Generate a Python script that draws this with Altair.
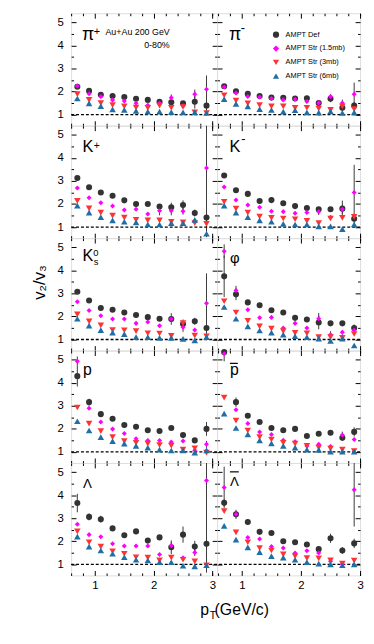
import altair as alt
import pandas as pd

FONT = "Liberation Sans"

PT = [0.7, 0.9, 1.1, 1.3, 1.5, 1.7, 1.9, 2.1, 2.3, 2.5, 2.7, 2.9]
SERIES = ["AMPT Def", "AMPT Str (1.5mb)", "AMPT Str (3mb)", "AMPT Str (6mb)"]
COLORS = ["#333333", "#ff00ff", "#ff3333", "#1f6fa6"]
SHAPES = ["circle", "diamond", "triangle-down", "triangle-up"]
SIZES = [38, 26, 44, 44]

# pi+
pip_def = [2.21, 2.03, 1.86, 1.81, 1.76, 1.69, 1.64, 1.56, 1.54, 1.49, 1.56, 1.39]
pip_s15 = [2.24, 1.91, 1.79, 1.63, 1.59, 1.49, 1.41, 1.49, 1.73, 1.39, 1.89, 2.10]
pip_s3 = [1.89, 1.64, 1.50, 1.41, 1.36, 1.31, 1.29, 1.39, 1.30, 1.33, 1.10, 1.07]
pip_s6 = [1.70, 1.49, 1.37, 1.23, 1.21, 1.16, 1.13, 1.13, 1.11, 1.10, 1.10, 1.07]
pip_def_err = [0.05, 0.05, 0.05, 0.05, 0.05, 0.05, 0.05, 0.05, 0.10, 0.10, 0.30, 0.30]
pip_s15_err = [0.05, 0.05, 0.05, 0.05, 0.05, 0.05, 0.05, 0.05, 0.15, 0.05, 0.20, 0.60]
# pi-
pim_def = [2.23, 2.01, 1.90, 1.81, 1.74, 1.73, 1.70, 1.71, 1.50, 1.69, 1.30, 1.39]
pim_s15 = [2.20, 1.94, 1.79, 1.76, 1.70, 1.64, 1.67, 1.57, 1.51, 1.79, 1.50, 1.89]
pim_s3 = [1.84, 1.61, 1.49, 1.41, 1.36, 1.36, 1.29, 1.30, 1.26, 1.21, 1.36, 1.24]
pim_s6 = [1.67, 1.47, 1.36, 1.24, 1.20, 1.13, 1.19, 1.10, 1.09, 1.14, 1.07, 1.10]
pim_def_err = [0.05, 0.05, 0.05, 0.05, 0.05, 0.05, 0.05, 0.05, 0.05, 0.15, 0.20, 0.15]
pim_s15_err = [0.05, 0.05, 0.05, 0.05, 0.05, 0.05, 0.05, 0.05, 0.05, 0.10, 0.15, 0.50]
# K+
kp_def = [3.13, 2.73, 2.50, 2.36, 2.16, 2.00, 2.00, 1.89, 1.86, 1.96, 1.61, 1.41]
kp_s15 = [2.70, 2.27, 2.06, 1.91, 1.74, 1.77, 1.57, 1.71, 1.71, 1.69, 1.24, 3.56]
kp_s3 = [2.14, 1.81, 1.63, 1.50, 1.41, 1.31, 1.29, 1.29, 1.23, 1.20, 1.17, 1.14]
kp_s6 = [1.93, 1.63, 1.43, 1.29, 1.23, 1.20, 1.11, 1.11, 1.17, 1.17, 1.31, 0.71]
kp_def_err = [0.05, 0.05, 0.05, 0.05, 0.05, 0.05, 0.05, 0.10, 0.20, 0.20, 0.15, 0.30]
kp_s15_err = [0.05, 0.05, 0.05, 0.05, 0.05, 0.05, 0.05, 0.20, 0.20, 0.15, 0.10, 3.00]
# K-
km_def = [3.24, 2.60, 2.44, 2.13, 2.17, 2.03, 1.91, 1.83, 1.77, 1.77, 1.80, 1.36]
km_s15 = [2.74, 2.17, 1.96, 1.86, 1.69, 1.67, 1.60, 1.63, 1.67, 1.43, 1.77, 2.50]
km_s3 = [2.10, 1.80, 1.63, 1.46, 1.40, 1.37, 1.34, 1.27, 1.17, 1.37, 1.40, 1.44]
km_s6 = [1.93, 1.63, 1.43, 1.29, 1.23, 1.14, 1.11, 1.11, 1.03, 1.03, 0.91, 1.11]
km_def_err = [0.05, 0.05, 0.05, 0.05, 0.05, 0.05, 0.05, 0.05, 0.05, 0.05, 0.35, 0.20]
km_s15_err = [0.05, 0.05, 0.05, 0.05, 0.05, 0.05, 0.05, 0.05, 0.15, 0.05, 0.20, 1.20]
# K0s
k0_def = [3.07, 2.69, 2.37, 2.29, 2.17, 2.06, 1.97, 1.90, 1.89, 1.67, 1.79, 1.50]
k0_s15 = [2.64, 2.26, 2.03, 1.89, 1.89, 1.70, 1.76, 1.60, 1.89, 1.53, 1.41, 2.57]
k0_s3 = [2.09, 1.79, 1.61, 1.41, 1.40, 1.36, 1.27, 1.26, 1.16, 1.71, 1.17, 1.14]
k0_s6 = [1.90, 1.60, 1.41, 1.30, 1.23, 1.10, 1.10, 1.07, 1.07, 1.03, 0.96, 1.10]
k0_def_err = [0.05, 0.05, 0.05, 0.05, 0.05, 0.05, 0.05, 0.05, 0.25, 0.20, 0.15, 0.30]
k0_s15_err = [0.05, 0.05, 0.05, 0.05, 0.05, 0.05, 0.05, 0.05, 0.05, 0.20, 0.05, 1.30]
# phi
phi_def = [3.74, 2.96, 2.61, 2.49, 2.27, 2.17, 1.94, 1.87, 1.74, 1.70, 1.70, 1.50]
phi_s15 = [4.83, 3.13, 2.29, 1.94, 1.96, 1.50, 1.70, 1.50, 1.90, 1.21, 1.31, 1.40]
phi_s3 = [2.66, 2.17, 1.81, 1.57, 1.47, 1.36, 1.29, 1.27, 1.10, 1.10, 1.07, 1.24]
phi_s6 = [2.41, 1.90, 1.57, 1.39, 1.30, 1.21, 1.14, 1.10, 1.04, 0.94, 1.04, 0.74]
phi_def_err = [0.90, 0.25, 0.10, 0.05, 0.05, 0.05, 0.05, 0.10, 0.30, 0.05, 0.05, 0.15]
phi_s15_err = [0.30, 0.20, 0.05, 0.05, 0.05, 0.05, 0.05, 0.05, 0.25, 0.15, 0.10, 0.10]
# p
p_def = [4.29, 3.16, 2.64, 2.44, 2.17, 2.09, 1.94, 1.91, 2.04, 1.73, 1.50, 2.00]
p_s15 = [4.94, 2.90, 2.30, 1.99, 1.80, 1.57, 1.50, 1.50, 1.43, 1.47, 1.07, 1.33]
p_s3 = [2.93, 2.23, 1.90, 1.64, 1.47, 1.40, 1.36, 1.30, 1.27, 1.10, 1.16, 0.97]
p_s6 = [2.33, 1.93, 1.64, 1.47, 1.36, 1.26, 1.19, 1.10, 1.06, 1.07, 0.97, 1.07]
p_def_err = [0.45, 0.15, 0.05, 0.05, 0.05, 0.05, 0.05, 0.05, 0.05, 0.05, 0.10, 0.30]
p_s15_err = [0.20, 0.05, 0.05, 0.05, 0.05, 0.05, 0.05, 0.05, 0.05, 0.05, 0.05, 0.15]
# pbar
pb_def = [5.33, 3.16, 2.57, 2.30, 2.04, 1.94, 2.00, 1.69, 1.79, 1.83, 1.61, 1.87]
pb_s15 = [5.26, 2.83, 2.23, 1.86, 1.76, 1.51, 1.44, 1.26, 1.33, 1.24, 1.73, 1.54]
pb_s3 = [3.36, 2.36, 1.93, 1.64, 1.54, 1.40, 1.36, 1.26, 1.19, 1.14, 1.10, 1.04]
pb_s6 = [2.66, 2.04, 1.76, 1.50, 1.37, 1.26, 1.19, 1.10, 1.09, 1.01, 1.01, 1.01]
pb_def_err = [0.40, 0.20, 0.05, 0.05, 0.05, 0.05, 0.05, 0.05, 0.05, 0.05, 0.10, 0.20]
pb_s15_err = [0.05, 0.05, 0.05, 0.05, 0.05, 0.05, 0.05, 0.05, 0.05, 0.05, 0.15, 0.05]
# Lambda
la_def = [3.66, 3.06, 2.96, 2.56, 2.26, 2.43, 2.03, 2.17, 1.74, 2.29, 1.77, 1.89]
la_s15 = [2.74, 2.29, 2.20, 1.89, 1.80, 1.80, 1.80, 1.43, 1.81, 1.29, 1.51, 4.64]
la_s3 = [2.43, 1.96, 1.77, 1.57, 1.46, 1.31, 1.29, 1.17, 1.29, 1.20, 1.13, 0.96]
la_s6 = [2.20, 1.77, 1.60, 1.46, 1.31, 1.20, 1.17, 1.10, 1.09, 0.94, 0.91, 0.96]
la_def_err = [0.40, 0.15, 0.15, 0.05, 0.05, 0.05, 0.05, 0.05, 0.30, 0.35, 0.25, 0.30]
la_s15_err = [0.05, 0.05, 0.05, 0.05, 0.05, 0.05, 0.05, 0.05, 0.15, 0.05, 0.15, 4.00]
# Lambda bar
lb_def = [3.67, 3.17, 2.84, 2.41, 2.36, 2.00, 1.96, 1.86, 1.66, 2.13, 1.60, 1.91]
lb_s15 = [4.34, 3.17, 2.17, 2.10, 1.77, 1.71, 1.49, 1.59, 1.49, 1.14, 1.00, 4.24]
lb_s3 = [3.31, 2.39, 1.96, 1.71, 1.60, 1.43, 1.36, 1.27, 1.26, 1.17, 1.03, 1.16]
lb_s6 = [2.67, 2.07, 1.74, 1.53, 1.36, 1.29, 1.20, 1.10, 1.03, 1.00, 0.96, 1.00]
lb_def_err = [0.15, 0.20, 0.10, 0.05, 0.05, 0.05, 0.05, 0.05, 0.05, 0.20, 0.15, 0.20]
lb_s15_err = [0.90, 0.05, 0.05, 0.05, 0.05, 0.05, 0.05, 0.05, 0.05, 0.05, 0.05, 1.60]

PANEL_DATA = [
    (pip_def, pip_s15, pip_s3, pip_s6, pip_def_err, pip_s15_err),
    (pim_def, pim_s15, pim_s3, pim_s6, pim_def_err, pim_s15_err),
    (kp_def, kp_s15, kp_s3, kp_s6, kp_def_err, kp_s15_err),
    (km_def, km_s15, km_s3, km_s6, km_def_err, km_s15_err),
    (k0_def, k0_s15, k0_s3, k0_s6, k0_def_err, k0_s15_err),
    (phi_def, phi_s15, phi_s3, phi_s6, phi_def_err, phi_s15_err),
    (p_def, p_s15, p_s3, p_s6, p_def_err, p_s15_err),
    (pb_def, pb_s15, pb_s3, pb_s6, pb_def_err, pb_s15_err),
    (la_def, la_s15, la_s3, la_s6, la_def_err, la_s15_err),
    (lb_def, lb_s15, lb_s3, lb_s6, lb_def_err, lb_s15_err),
]

# panel labels: (text, x, y, fontSize)
PANEL_LABELS = [
    [("π", 11, 27, 18), ("+", 23, 22, 11)],
    [("π", 12, 27, 18), ("-", 24, 19, 13)],
    [("K", 11.5, 27, 16.5), ("+", 23, 24, 10.5)],
    [("K", 12.5, 27, 16.5), ("-", 24.5, 18, 13)],
    [("K", 11.5, 23, 16.5), ("0", 22.5, 18.5, 9.5), ("s", 23, 27.5, 9.5)],
    [("φ", 13, 25, 15)],
    [("p", 12, 25, 16)],
    [("p", 13, 25, 16)],
    [("Λ", 12, 25, 13.5)],
    [("Λ", 13, 23, 13.5)],
]
BARS = {7: (13, 21, 13), 9: (13, 22, 9)}

YMAJ = [1, 2, 3, 4, 5]
YMIN = [1.5, 2.5, 3.5, 4.5]
XMAJ = [1, 2, 3]
XMIN = [0.6, 0.8, 1.2, 1.4, 1.6, 1.8, 2.2, 2.4, 2.6, 2.8, 3.0]

rows = []
for pi, (d0, d1, d2, d3, e0, e1) in enumerate(PANEL_DATA):
    for s, vals, errs in [(0, d0, e0), (1, d1, e1), (2, d2, None), (3, d3, None)]:
        for j, v in enumerate(vals):
            e = errs[j] if errs is not None else 0.03
            rows.append({"panel": pi, "series": SERIES[s], "pt": PT[j], "v": v,
                         "lo": v - e, "hi": v + e, "err": e})
df = pd.DataFrame(rows)
one = pd.DataFrame({"ax": [1.0], "ay": [1.0], "one": [1.0]})

LEG = alt.Legend(orient="none", legendX=204, legendY=18, title=None,
                 labelFont=FONT, labelFontSize=7.5, labelColor="black",
                 rowPadding=5, labelOffset=6, symbolStrokeWidth=0, symbolSize=40)


def mk_axis(orient, values, size, labels=False, pad=0):
    kw = dict(orient=orient, values=values, tickSize=size, offset=-size,
              labels=labels, domain=False, grid=False, title=None, ticks=True,
              tickColor="black", tickWidth=1)
    if labels:
        kw.update(labelFont=FONT, labelFontSize=11.5, labelColor="black",
                  labelPadding=pad, labelFlush=False)
    return alt.Axis(**kw)


def panel(i):
    row, col = divmod(i, 2)
    w = 148 if col == 0 else 145
    xdom = [0.594, 3.08] if col == 0 else [0.58, 3.0]
    xs = alt.Scale(domain=xdom, nice=False, zero=False)
    ys = alt.Scale(domain=[0.52, 5.40], nice=False, zero=False)
    d = df[df.panel == i]
    base = alt.Chart(d)

    errs = base.transform_filter("datum.err >= 0.1").mark_rule(
        color="#3a3a3a", strokeWidth=1, clip=True).encode(
        x=alt.X("pt:Q", scale=xs, axis=None),
        y=alt.Y("lo:Q", scale=ys, axis=None),
        y2="hi:Q")
    dash = alt.Chart(one).mark_rule(color="black", strokeDash=[3, 2], strokeWidth=1.3).encode(
        y=alt.Y("one:Q", scale=ys, axis=None))

    pts = []
    for k, s in enumerate(SERIES):
        pts.append(base.transform_filter(alt.datum.series == s).mark_point(
            filled=True, opacity=1, strokeWidth=0, size=SIZES[k]).encode(
            x=alt.X("pt:Q", scale=xs, axis=None),
            y=alt.Y("v:Q", scale=ys, axis=None),
            color=alt.Color("series:N", scale=alt.Scale(domain=SERIES, range=COLORS), legend=LEG),
            shape=alt.Shape("series:N", scale=alt.Scale(domain=SERIES, range=SHAPES), legend=LEG),
        ))

    def axl(xa, ya):
        return alt.Chart(one).mark_point(opacity=0).encode(
            x=alt.X("ax:Q", scale=xs, axis=xa), y=alt.Y("ay:Q", scale=ys, axis=ya))

    ax_layers = [
        axl(mk_axis("bottom", XMAJ, 5, labels=(row == 4), pad=4),
            mk_axis("left", YMAJ, 5, labels=(col == 0), pad=8)),
        axl(mk_axis("bottom", XMIN, 2.5), mk_axis("left", YMIN, 2.5)),
        axl(mk_axis("top", XMAJ, 5), mk_axis("right", YMAJ, 5)),
        axl(mk_axis("top", XMIN, 2.5), mk_axis("right", YMIN, 2.5)),
    ]

    texts = []
    for (t, x, y, fs) in PANEL_LABELS[i]:
        texts.append(alt.Chart(one).mark_text(text=t, align="left", baseline="alphabetic",
                                              font=FONT, fontSize=fs, color="black").encode(
            x=alt.value(x), y=alt.value(y)))
    if i in BARS:
        x1, x2, yb = BARS[i]
        texts.append(alt.Chart(one).mark_rule(color="black", strokeWidth=1.2).encode(
            x=alt.value(x1), x2=alt.value(x2), y=alt.value(yb)))
    if i == 0:
        for t, y in [("Au+Au 200 GeV", 22.3), ("0-80%", 35)]:
            texts.append(alt.Chart(one).mark_text(text=t, align="right", baseline="alphabetic",
                                                  font=FONT, fontSize=9, color="black").encode(
                x=alt.value(100), y=alt.value(y)))
    if i == 4:
        texts.append(alt.Chart(one).mark_text(text="v₂/v₃", angle=270, align="center",
                                              baseline="middle", font=FONT, fontSize=17,
                                              color="black").encode(
            x=alt.value(-31), y=alt.value(45)))
    if i == 8:
        for t, x, y, fs in [("p", 131, 114 + 40, 16), ("T", 140.5, 114 + 44.5, 10.5),
                            ("(GeV/c)", 145.5, 114 + 40, 16)]:
            texts.append(alt.Chart(one).mark_text(text=t, align="left", baseline="alphabetic",
                                                  font=FONT, fontSize=fs, color="black").encode(
                x=alt.value(x), y=alt.value(y)))

    return alt.layer(errs, dash, *pts, *ax_layers, *texts).resolve_axis(
        x="independent", y="independent").properties(width=w, height=114)


chart = alt.concat(*[panel(i) for i in range(10)], columns=2, spacing=0, bounds="flush").properties(
    padding={"left": 23, "top": 0, "right": 2, "bottom": 2}
).configure_view(stroke="black", strokeWidth=1).configure(background="white")

chart.save("out.html", embed_options={"renderer": "svg", "actions": False})
